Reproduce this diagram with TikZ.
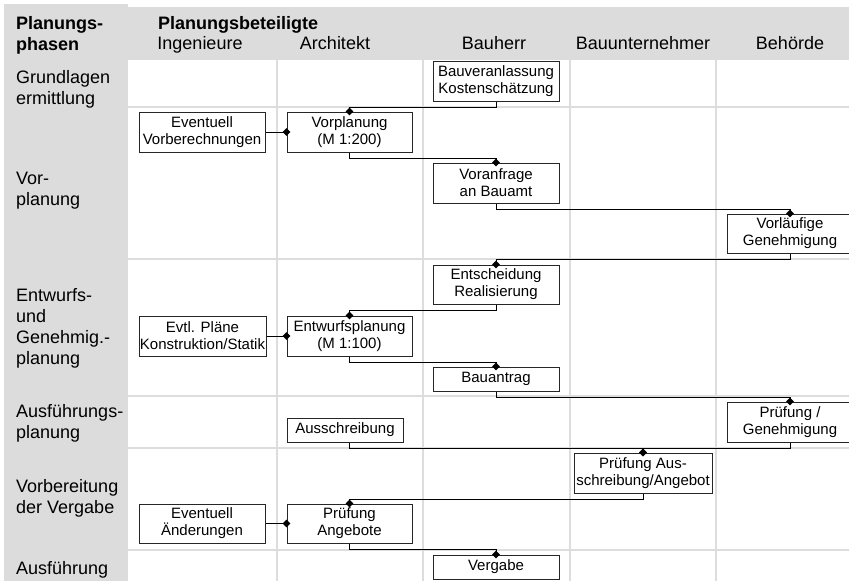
\documentclass[tikz,border=0pt]{standalone}
\usepackage{fontspec}
\setmainfont{Liberation Sans}
\usetikzlibrary{shapes.geometric}

\definecolor{panelgray}{HTML}{DCDCDC}
\definecolor{rulegray}{HTML}{DDDDDD}

\begin{document}
\begin{tikzpicture}[x=1pt, y=-1pt,
  headfont/.style={font=\fontsize{18}{21}\selectfont},
  phase/.style={headfont, anchor=west, align=left, inner sep=0},
  party/.style={headfont, anchor=base, inner sep=0},
  gridline/.style={draw=rulegray, line width=2},
  task/.style={draw=black!85, line width=1, fill=white, inner sep=0,
    align=center, font=\fontsize{15}{17}\selectfont,
    minimum width=126, minimum height=40},
  slim/.style={minimum height=24},
  link/.style={draw=black, line width=1},
  joint/.style={diamond, fill=black, inner sep=0, minimum size=8}]

\useasboundingbox (0,0) rectangle (849,581);
\clip (0,0) rectangle (849,581);

% shaded header row and phase column
\fill[panelgray] (128,7) rectangle (849,60);
\fill[panelgray] (4,4) rectangle (128,581);

% table rules
\foreach \gx in {277,423,570,716}
  \draw[gridline] (\gx,60) -- (\gx,581);
\foreach \gy in {107,259,396,448,550}
  \draw[gridline] (128,\gy) -- (849,\gy);

% header texts
\node[phase, font=\fontsize{18}{21}\selectfont\bfseries] (hphase) at (16,35) {Planungs-\\phasen};
\node[headfont, anchor=base west, inner sep=0, font=\fontsize{18}{21}\selectfont\bfseries] (hparty) at (158,29) {Planungsbeteiligte};
\node[party] (ping) at (200,49) {Ingenieure};
\node[party] (parc) at (335,49) {Architekt};
\node[party] (pbh)  at (494,49) {Bauherr};
\node[party] (pbu)  at (643,49) {Bauunternehmer};
\node[party] (pbe)  at (790,49) {Behörde};

% phase labels
\node[phase] (ph1) at (16,89)  {Grundlagen\\ermittlung};
\node[phase] (ph2) at (16,191) {Vor-\\planung};
\node[phase] (ph3) at (16,328) {Entwurfs-\\und\\Genehmig.-\\planung};
\node[phase] (ph4) at (16,423) {Ausführungs-\\planung};
\node[phase] (ph5) at (16,498) {Vorbereitung\\der Vergabe};
\node[phase] (ph6) at (16,570) {Ausführung};

% tasks
\node[task] (bv)  at (496,81)    {Bauveranlassung\\Kostenschätzung};
\node[task] (ev)  at (202,132)   {Eventuell\\Vorberechnungen};
\node[task, minimum width=125] (vp) at (349.5,132) {Vorplanung\\(M 1:200)};
\node[task] (va)  at (496,183)   {Voranfrage\\an Bauamt};
\node[task, minimum height=39] (vg) at (790,233.5) {Vorläufige\\Genehmigung};
\node[task, minimum height=39] (er) at (496,284.5) {Entscheidung\\Realisierung};
\node[task, minimum width=127] (ep) at (202.5,336) {Evtl. Pläne\\Konstruktion/Statik};
\node[task, minimum width=125] (ew) at (349.5,336) {Entwurfsplanung\\(M 1:100)};
\node[task, slim] (ba) at (496,379) {Bauantrag};
\node[task] (pg)  at (790,422)   {Prüfung /\\Genehmigung};
\node[task, slim, minimum width=116] (as) at (345,430) {Ausschreibung};
\node[task, minimum width=138] (pa) at (643,473) {Prüfung Aus-\\schreibung/Angebot};
\node[task, minimum height=39] (ea) at (202,523.5) {Eventuell\\Änderungen};
\node[task, minimum width=125, minimum height=39] (pan) at (349.5,523.5) {Prüfung\\Angebote};
\node[task, slim] (vb) at (496,567) {Vergabe};

% flow connectors
\draw[link] (bv.south) -- ++(0,5.5) -| (vp.north) node[joint] {};
\draw[link] (ev.east) -- (vp.west) node[joint] {};
\draw[link] (vp.south) -- ++(0,5.5) -| (va.north) node[joint] {};
\draw[link] (va.south) -- ++(0,5.5) -| (vg.north) node[joint] {};
\draw[link] (vg.south) -- ++(0,5.5) -| (er.north) node[joint] {};
\draw[link] (er.south) -- ++(0,5.5) -| (ew.north) node[joint] {};
\draw[link] (ep.east) -- (ew.west) node[joint] {};
\draw[link] (ew.south) -- ++(0,5.5) -| (ba.north) node[joint] {};
\draw[link] (ba.south) -- ++(0,5.5) -| (pg.north) node[joint] {};
\draw[link] (as.south -| pan.south) -- ++(0,5.5) -| (pa.north) node[joint] {};
\draw[link] (pg.south) -- ++(0,5.5) -| (pa.north) node[joint] {};
\draw[link] (pa.south) -- ++(0,5.5) -| (pan.north) node[joint] {};
\draw[link] (ea.east) -- (pan.west) node[joint] {};
\draw[link] (pan.south) -- ++(0,5.5) -| (vb.north) node[joint] {};
\end{tikzpicture}
\end{document}
